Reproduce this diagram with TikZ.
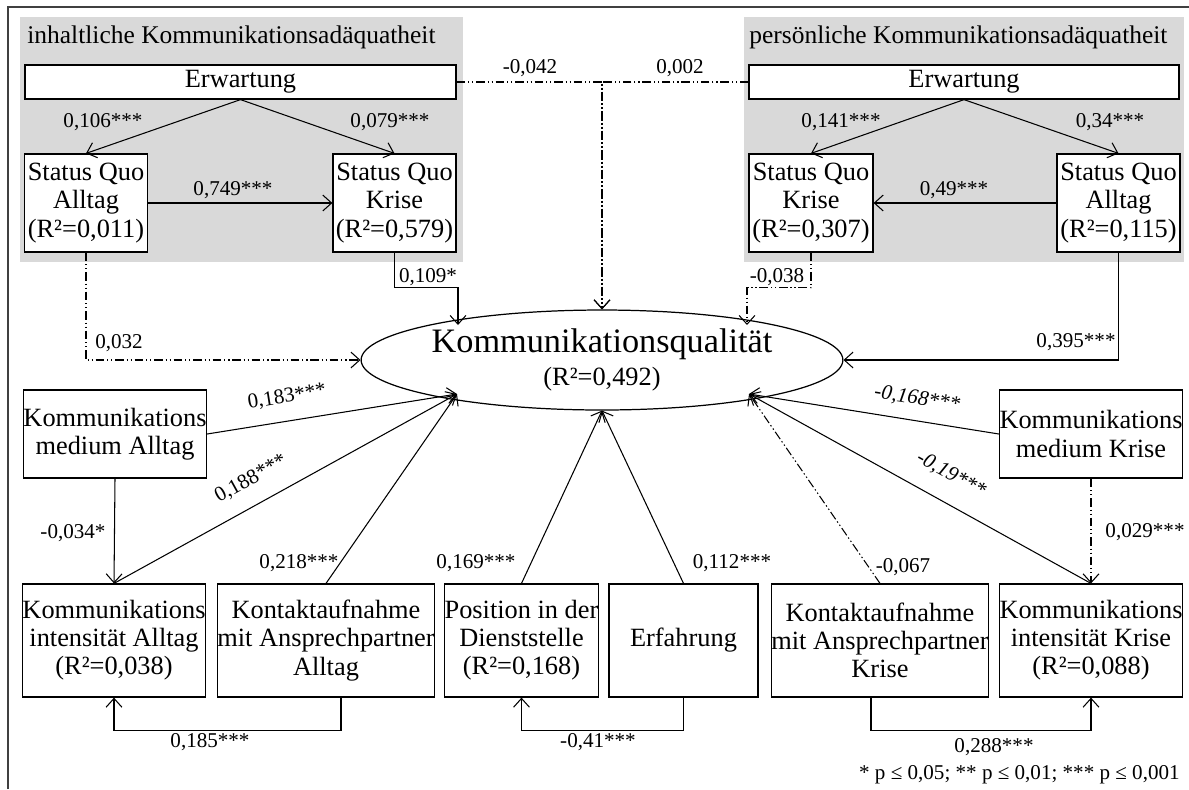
\documentclass[tikz,border=0pt]{standalone}
\usepackage{fontspec}
\setmainfont{Liberation Serif}
\usetikzlibrary{arrows.meta,shapes.geometric}

\tikzset{
  box/.style={draw, fill=white, align=center, inner sep=0pt, line width=0.7pt, font=\fontsize{15}{16}\selectfont},
  arr/.style={-{Straight Barb[length=5pt,width=9pt]}, line width=0.6pt},
  dd/.style={dash pattern=on 5pt off 1.5pt on 0.8pt off 1.5pt on 0.8pt off 1.5pt},
  lbl/.style={font=\fontsize{12}{14}\selectfont, inner sep=0pt},
  grp/.style={fill=black!15}
}

\begin{document}
\begin{tikzpicture}[x=0.02cm, y=-0.02cm]
\useasboundingbox (0,0) rectangle (1189,789);
\draw[black!75, line width=1pt] (8,789) -- (8,7) -- (1189,7);

% the two groups
\fill[grp] (20,17) rectangle (463,262);
\fill[grp] (744,17) rectangle (1184,262);
\node[anchor=west, inner sep=0pt, font=\fontsize{14.5}{16}\selectfont] (tinh) at (27,37) {inhaltliche Kommunikationsadäquatheit};
\node[anchor=west, inner sep=0pt, font=\fontsize{14.5}{16}\selectfont] (tpers) at (749,37) {persönliche Kommunikationsadäquatheit};

\node[box, minimum width=8.62cm, minimum height=0.68cm] (EL) at (240.5,82) {Erwartung};
\node[box, minimum width=2.46cm, minimum height=1.96cm] (SQAL) at (86,203) {Status Quo\\Alltag\\(R²=0,011)};
\node[box, minimum width=2.46cm, minimum height=1.96cm] (SQKL) at (394.5,203) {Status Quo\\Krise\\(R²=0,579)};

\node[box, minimum width=8.6cm, minimum height=0.68cm] (ER) at (964,82) {Erwartung};
\node[box, minimum width=2.48cm, minimum height=1.96cm] (SQKR) at (811,203) {Status Quo\\Krise\\(R²=0,307)};
\node[box, minimum width=2.46cm, minimum height=1.96cm] (SQAR) at (1118.5,203) {Status Quo\\Alltag\\(R²=0,115)};

% target
\node[draw, ellipse, fill=white, line width=0.7pt, inner sep=0pt, minimum width=8.16cm, minimum height=2cm, align=center] (Q) at (602,360)
  {\fontsize{19.5}{20}\selectfont Kommunikationsqualität\\[3pt]{\fontsize{15}{16}\selectfont (R²=0,492)}};
\coordinate (qlw) at (457,394);
\coordinate (qre) at (749,394);
\coordinate (qnw) at (458,325);
\coordinate (qne) at (747,325);

% predictors
\node[box, minimum width=3.6cm, minimum height=1.76cm] (MA) at (115,434) {Kommunikations\\medium Alltag};
\node[box, minimum width=3.6cm, minimum height=1.76cm] (MK) at (1091,434) {Kommunikations\\medium Krise};
\node[box, minimum width=3.6cm, minimum height=2.26cm] (IA) at (114,640.5) {Kommunikations\\intensität Alltag\\(R²=0,038)};
\node[box, minimum width=4.32cm, minimum height=2.26cm] (KA) at (326,640.5) {Kontaktaufnahme\\mit Ansprechpartner\\Alltag};
\node[box, minimum width=2.98cm, minimum height=2.26cm] (PD) at (521.5,640.5) {Position in der\\Dienststelle\\(R²=0,168)};
\node[box, minimum width=2.98cm, minimum height=2.26cm] (ERF) at (683.5,640.5) {Erfahrung};
\node[box, minimum width=4.32cm, minimum height=2.26cm] (KK) at (880,640.5) {Kontaktaufnahme\\mit Ansprechpartner\\Krise};
\node[box, minimum width=3.6cm, minimum height=2.26cm] (IK) at (1091,640.5) {Kommunikations\\intensität Krise\\(R²=0,088)};

% paths inside the groups
\draw[arr] (EL.south) -- (SQAL.north) node[lbl] at (103,122) {0,106***};
\draw[arr] (EL.south) -- (SQKL.north) node[lbl] at (390,122) {0,079***};
\draw[arr] (SQAL.east) -- (SQKL.west) node[lbl] at (233,190) {0,749***};
\draw[arr] (ER.south) -- (SQKR.north) node[lbl] at (841,122) {0,141***};
\draw[arr] (ER.south) -- (SQAR.north) node[lbl] at (1110,122) {0,34***};
\draw[arr] (SQAR.west) -- (SQKR.east) node[lbl] at (954,190) {0,49***};

% paths to the target
\draw[arr, dd] (EL.east) -| (Q.north) node[lbl] at (530,68) {-0,042};
\draw[arr, dd] (ER.west) -| (Q.north) node[lbl] at (680,68) {0,002};
\draw[arr, dd] (SQAL.south) |- (Q.west) node[lbl] at (119,343) {0,032};
\draw[arr] (SQKL.south) -- ++(0,35) -| (qnw) node[lbl] at (428,277) {0,109*};
\draw[arr, dd] (SQKR.south) -- ++(0,35) -| (qne) node[lbl] at (777,277) {-0,038};
\draw[arr] (SQAR.south) |- (Q.east) node[lbl] at (1076,342) {0,395***};

\draw[arr] (MA.east) -- (qlw) node[lbl, rotate=9] at (287,397) {0,183***};
\draw[arr] (IA.north) -- (qlw) node[lbl, rotate=29] at (251,479) {0,188***};
\draw[arr] (MA.south) -- (IA.north) node[lbl] at (73,533) {-0,034*};
\draw[arr] (KA.north) -- (qlw) node[lbl] at (299,563) {0,218***};
\draw[arr] (PD.north) -- (Q.south) node[lbl] at (476,563) {0,169***};
\draw[arr] (ERF.north) -- (Q.south) node[lbl] at (732,563) {0,112***};
\draw[arr, dd] (KK.north) -- (qre) node[lbl] at (903,567) {-0,067};
\draw[arr] (IK.north) -- (qre) node[lbl, rotate=-29, font=\fontsize{12}{14}\selectfont\itshape] at (951,475) {-0,19***};
\draw[arr] (MK.west) -- (qre) node[lbl, rotate=-9, font=\fontsize{12}{14}\selectfont\itshape] at (917,399) {-0,168***};
\draw[arr, dd] (MK.south) -- (IK.north) node[lbl] at (1145,532) {0,029***};

% bottom links
\draw[arr] ([xshift=0.3cm]KA.south) -- ++(0,33) -| (IA.south) node[lbl] at (210,742) {0,185***};
\draw[arr] (ERF.south) -- ++(0,33) -| (PD.south) node[lbl] at (598,742) {-0,41***};
\draw[arr] ([xshift=-0.18cm]KK.south) -- ++(0,33) -| (IK.south) node[lbl] at (994,747) {0,288***};

\node[lbl, anchor=east] (note) at (1180,775) {* p ≤ 0,05; ** p ≤ 0,01; *** p ≤ 0,001};
\end{tikzpicture}
\end{document}
